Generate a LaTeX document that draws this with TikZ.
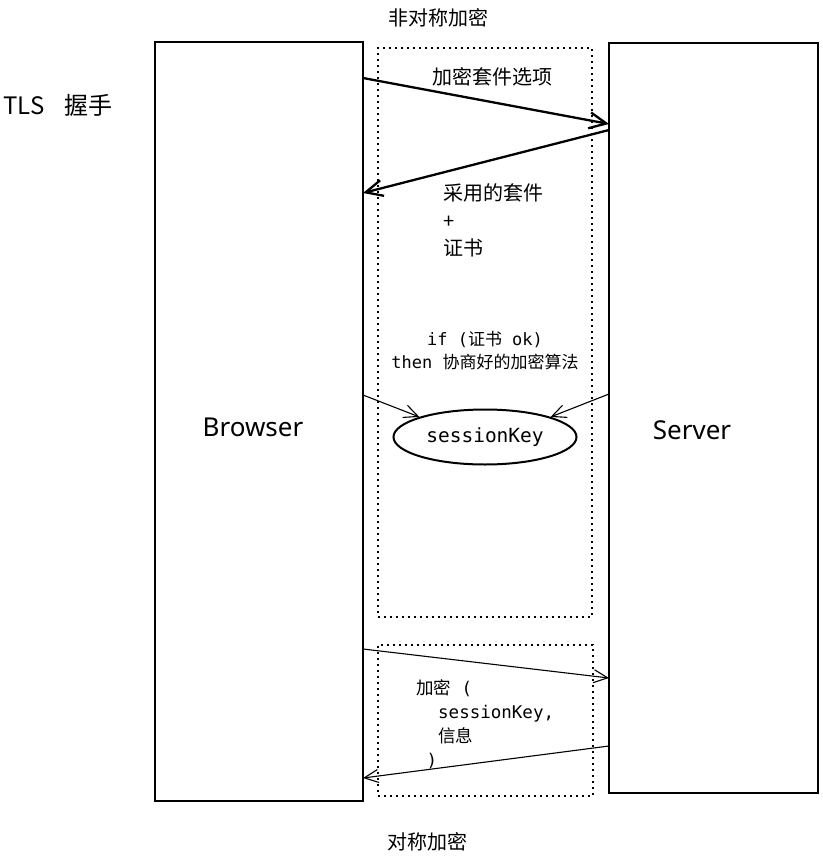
\documentclass[tikz,border=0pt]{standalone}
\usepackage{fontspec}
\setmainfont{Noto Sans CJK SC}
\newfontfamily\monofont{DejaVu Sans Mono}
\newfontfamily\handfont{Noto Sans}
\usetikzlibrary{arrows.meta,shapes.geometric,calc}
\tikzset{
  actorbox/.style={draw, line width=2pt, rectangle, inner sep=0pt, outer sep=0pt},
  dotbox/.style={draw, line width=2pt, rectangle, inner sep=0pt, outer sep=0pt,
    dash pattern=on 2pt off 4pt},
  handlabel/.style={font=\handfont\fontsize{26}{30}\selectfont},
  cjklabel/.style={font=\fontsize{20}{26}\selectfont, inner sep=0pt},
  bigarrow/.style={line width=2.3pt, -{Straight Barb[length=17pt,width=16pt]}},
  thinarrow/.style={line width=1.1pt, -{Straight Barb[length=14pt,width=13pt]}},
}
\begin{document}
\begin{tikzpicture}[x=1pt,y=-1pt]
\useasboundingbox (0,0) rectangle (822,856);

% main boxes
\node[actorbox, minimum width=208, minimum height=759] (browser) at (259,421.5) {};
\node[actorbox, minimum width=209, minimum height=750] (server) at (713.5,418) {};
\node[handlabel] (browserlabel) at (253,427) {Browser};
\node[handlabel] (serverlabel) at (692,430) {Server};

% dotted groups
\node[dotbox, minimum width=214, minimum height=569] (asym) at (485,332.5) {};
\node[dotbox, minimum width=215, minimum height=151] (sym) at (485.5,720.5) {};

% titles
\node[cjklabel] (asymtitle) at (438,18) {非对称加密};
\node[cjklabel] (symtitle) at (427,842) {对称加密};
\node[anchor=west, inner sep=0pt, font=\fontsize{24}{28}\selectfont] (tls) at (3,105) {TLS\hspace{20pt}握手};

% session key
\node[ellipse, draw, line width=2pt, inner sep=0pt, minimum width=183, minimum height=55,
  font=\monofont\fontsize{19.5}{22}\selectfont] (sk) at (485,437) {sessionKey};

% arrow end points on box edges
\coordinate (a1s) at ($(browser.north east)+(0,36)$);
\coordinate (a1e) at ($(server.north west)+(0,81)$);
\coordinate (a2s) at ($(server.north west)+(0,87)$);
\coordinate (a2e) at ($(browser.north east)+(0,151)$);
\coordinate (k1s) at ($(browser.north east)+(0,353)$);
\coordinate (k2s) at ($(server.north west)+(0,351)$);
\coordinate (a3s) at ($(browser.north east)+(0,607)$);
\coordinate (a3e) at ($(server.north west)+(0,635)$);
\coordinate (a4s) at ($(server.north west)+(0,703)$);
\coordinate (a4e) at ($(browser.north east)+(0,736)$);

\draw[bigarrow] (a1s) -- (a1e);
\draw[bigarrow] (a2s) -- (a2e);
\draw[thinarrow] (k1s) -- (sk.163);
\draw[thinarrow] (k2s) -- (sk.17);
\draw[thinarrow] (a3s) -- (a3e);
\draw[thinarrow] (a4s) -- (a4e);

% labels
\node[cjklabel] (optlabel) at (492,77) {加密套件选项};
\node[cjklabel, anchor=west, align=left, font=\fontsize{20}{27.5}\selectfont] (replylabel) at (443,220.5) {采用的套件\\+\\证书};
\node[inner sep=0pt, align=center, font=\fontsize{17}{23}\selectfont] (condlabel) at (485,350.5)
  {{\monofont if (}证书{\monofont\ ok)}\\{\monofont then\ }协商好的加密算法};
\node[inner sep=0pt, anchor=west, align=left, font=\fontsize{17.5}{24}\selectfont] (msglabel) at (416,724)
  {加密{\monofont\ (}\\\hspace*{22pt}{\monofont sessionKey,}\\\hspace*{22pt}信息\\{\monofont\ )}};
\end{tikzpicture}
\end{document}
